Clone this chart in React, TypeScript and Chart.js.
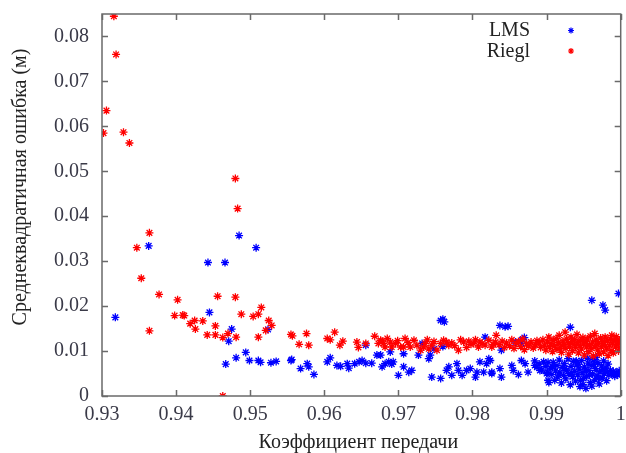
import React, { useEffect, useRef } from "react";
import { Chart, registerables } from "chart.js";

Chart.register(...registerables);

const xTickValues = [0.93, 0.94, 0.95, 0.96, 0.97, 0.98, 0.99, 1];
const yTickValues = [0, 0.01, 0.02, 0.03, 0.04, 0.05, 0.06, 0.07, 0.08];
const xTitle = "Коэффициент передачи";
const yTitle = "Среднеквадратичная ошибка (м)";
const seriesNames = ["LMS", "Riegl"];

const lmsPoints: [number, number][] = [
  [0.9318, 0.0175], [0.9363, 0.0334], [0.9443, 0.0297], [0.9466, 0.0297], [0.9485, 0.0357],
  [0.9508, 0.033], [0.9445, 0.0186], [0.9475, 0.0149], [0.9471, 0.0122], [0.9524, 0.0148],
  [0.9494, 0.0097], [0.9481, 0.0085], [0.9467, 0.0071], [0.9499, 0.0079], [0.9511, 0.0079],
  [0.9514, 0.0075], [0.9528, 0.0074], [0.9535, 0.0077], [0.9555, 0.0079], [0.9556, 0.0081],
  [0.9568, 0.0061], [0.9577, 0.0072], [0.9579, 0.0065], [0.9586, 0.0048],
  [0.9604, 0.0076], [0.9608, 0.0085], [0.9617, 0.0068], [0.9622, 0.0066], [0.9631, 0.0072],
  [0.9633, 0.0062], [0.9641, 0.0072], [0.9647, 0.0076], [0.9651, 0.0079], [0.9656, 0.0073],
  [0.9664, 0.0073], [0.9671, 0.0091], [0.9678, 0.0065], [0.9682, 0.0072], [0.9687, 0.0076],
  [0.9691, 0.0071], [0.9693, 0.0076], [0.9656, 0.0113], [0.9676, 0.0091], [0.9689, 0.0098],
  [0.9757, 0.0168], [0.9762, 0.0165], [0.976, 0.0171], [0.97, 0.0046], [0.9707, 0.0094],
  [0.9707, 0.0065], [0.9714, 0.0053], [0.9718, 0.0057], [0.9727, 0.0091], [0.9732, 0.0117],
  [0.9741, 0.0083], [0.9743, 0.0091], [0.9748, 0.0105], [0.9745, 0.0042], [0.9757, 0.0039],
  [0.976, 0.011], [0.9765, 0.0057], [0.9768, 0.0065], [0.9772, 0.0046], [0.9779, 0.0072],
  [0.9781, 0.0057], [0.9786, 0.0046], [0.9792, 0.0057], [0.9797, 0.0061], [0.9804, 0.0042],
  [0.9806, 0.0053], [0.981, 0.0076], [0.9815, 0.0053], [0.9819, 0.0072], [0.9822, 0.0083],
  [0.9826, 0.0053], [0.9817, 0.0131], [0.9837, 0.0157], [0.9844, 0.0154], [0.9848, 0.0155],
  [0.9932, 0.0153], [0.9961, 0.0213], [0.9976, 0.0202], [0.9979, 0.0191], [0.9997, 0.0228],
  [0.9839, 0.0102], [0.9824, 0.0079], [0.9826, 0.005], [0.9837, 0.0061], [0.9839, 0.0042],
  [0.9853, 0.0068], [0.9855, 0.0057], [0.9862, 0.0048], [0.9866, 0.0079], [0.9871, 0.0072],
  [0.9875, 0.0053], [0.9884, 0.0068], [0.9891, 0.0057], [0.9896, 0.0076], [0.99, 0.005],
  [0.9902, 0.0035], [0.9866, 0.0117], [0.9867, 0.0125], [0.9858, 0.012], [0.987, 0.013],
  [0.9884, 0.0078], [0.9887, 0.0064], [0.989, 0.0071], [0.9893, 0.0058], [0.9899, 0.0066],
  [0.9901, 0.0052], [0.9903, 0.003], [0.9902, 0.0075],
  [0.9905, 0.0062], [0.9907, 0.0048], [0.9909, 0.0075], [0.9911, 0.0035], [0.9912, 0.0056],
  [0.9914, 0.0068], [0.9915, 0.0042], [0.9917, 0.008], [0.9918, 0.0053], [0.992, 0.0029],
  [0.9921, 0.0064], [0.9923, 0.0046], [0.9924, 0.0072], [0.9926, 0.0038], [0.9927, 0.0058],
  [0.9929, 0.0083], [0.993, 0.005], [0.9932, 0.0025], [0.9933, 0.0066], [0.9935, 0.0043],
  [0.9936, 0.0077], [0.9938, 0.0055], [0.9939, 0.0033], [0.9941, 0.0069], [0.9942, 0.0047],
  [0.9944, 0.006], [0.9945, 0.0021], [0.9947, 0.0079], [0.9948, 0.0052], [0.995, 0.0039],
  [0.9951, 0.0065], [0.9953, 0.0017], [0.9954, 0.0044], [0.9956, 0.0073], [0.9957, 0.0057],
  [0.9959, 0.003], [0.996, 0.0068], [0.9962, 0.0049], [0.9963, 0.0081], [0.9965, 0.0036],
  [0.9966, 0.0061], [0.9968, 0.0045], [0.9969, 0.0074], [0.9971, 0.0027], [0.9972, 0.0054],
  [0.9974, 0.0067], [0.9975, 0.004], [0.9977, 0.0078], [0.9978, 0.005], [0.998, 0.0062],
  [0.9981, 0.0034], [0.9983, 0.0071], [0.9984, 0.0046], [0.9986, 0.0057], [0.9988, 0.0049],
  [0.999, 0.0055], [0.9992, 0.0044], [0.9994, 0.0052], [0.9996, 0.0047], [0.9998, 0.0056],
  [0.9999, 0.005],
  [0.9908, 0.0066], [0.9916, 0.0047], [0.9925, 0.0061], [0.9934, 0.0052], [0.994, 0.0078],
  [0.9946, 0.0035], [0.9952, 0.0058], [0.9958, 0.0047], [0.9964, 0.007], [0.997, 0.004],
  [0.9976, 0.0059], [0.9982, 0.0053], [0.9949, 0.0025], [0.9961, 0.0022], [0.9955, 0.0084],
  [0.9967, 0.0086], [0.9943, 0.0071],
];

const rieglPoints: [number, number][] = [
  [0.9316, 0.0845], [0.9319, 0.076], [0.9306, 0.0635], [0.9302, 0.0585], [0.9329, 0.0587],
  [0.9337, 0.0563], [0.948, 0.0484], [0.9483, 0.0417], [0.9364, 0.0363], [0.9347, 0.033],
  [0.9353, 0.0262], [0.9377, 0.0226], [0.9402, 0.0214], [0.9456, 0.0222], [0.948, 0.022],
  [0.9398, 0.0179], [0.9409, 0.018], [0.9411, 0.0179], [0.9419, 0.0161], [0.9425, 0.0168],
  [0.9436, 0.0167], [0.9426, 0.0149], [0.9364, 0.0145], [0.9442, 0.0136], [0.9453, 0.0136],
  [0.9453, 0.0156], [0.9463, 0.013], [0.947, 0.0139], [0.9481, 0.0131], [0.9488, 0.0182],
  [0.9504, 0.0177], [0.9511, 0.0182], [0.9515, 0.0197], [0.9525, 0.0168], [0.9529, 0.0157],
  [0.9521, 0.0146], [0.9511, 0.0131], [0.9463, 0.0],
  [0.9555, 0.0137], [0.9557, 0.0134], [0.9576, 0.0139], [0.9566, 0.0115], [0.9579, 0.0113],
  [0.9604, 0.0128], [0.9608, 0.0125], [0.9614, 0.0142], [0.9621, 0.0113], [0.9625, 0.0122],
  [0.9644, 0.012], [0.9646, 0.0108], [0.9656, 0.0117], [0.9668, 0.0133], [0.9673, 0.0117],
  [0.9678, 0.0122], [0.9682, 0.0109],
  [0.9676, 0.0124], [0.968, 0.0117], [0.9685, 0.0128], [0.9689, 0.012], [0.9691, 0.0109],
  [0.9696, 0.0117], [0.9703, 0.0109], [0.9707, 0.0109], [0.9709, 0.0128], [0.9716, 0.0109],
  [0.9721, 0.0124], [0.9725, 0.0113], [0.973, 0.0102], [0.9734, 0.0109], [0.9736, 0.0117],
  [0.9741, 0.0105], [0.9745, 0.0113], [0.9752, 0.0102], [0.9757, 0.0117], [0.9761, 0.0124],
  [0.9765, 0.012], [0.9768, 0.0113], [0.9772, 0.0118], [0.9781, 0.0102], [0.9788, 0.012],
  [0.9795, 0.0122], [0.9801, 0.0117], [0.9808, 0.0109], [0.981, 0.012], [0.9817, 0.0113],
  [0.9822, 0.0124], [0.9826, 0.0109], [0.9831, 0.012],
  [0.9699, 0.0123], [0.9713, 0.0119], [0.9739, 0.0125], [0.9748, 0.0121], [0.9776, 0.0112],
  [0.9784, 0.0125], [0.9792, 0.0108], [0.9798, 0.0115], [0.9804, 0.0125], [0.9813, 0.0117],
  [0.9828, 0.0115], [0.9832, 0.0135],
  [0.9836, 0.0114], [0.984, 0.0122], [0.9843, 0.0108], [0.9846, 0.0118], [0.985, 0.0112],
  [0.9853, 0.0125], [0.9856, 0.0106], [0.9859, 0.0117], [0.9862, 0.0121], [0.9865, 0.011],
  [0.9868, 0.0127], [0.987, 0.0103], [0.9873, 0.0116], [0.9876, 0.0111], [0.9879, 0.012],
  [0.9882, 0.0107], [0.9885, 0.0114], [0.9887, 0.0123],
  [0.989, 0.0118], [0.9892, 0.0108], [0.9895, 0.0125], [0.9897, 0.0113], [0.9899, 0.0102],
  [0.9901, 0.012], [0.9903, 0.0131], [0.9904, 0.011], [0.9906, 0.0117], [0.9908, 0.0099],
  [0.9909, 0.0124], [0.9911, 0.0112], [0.9913, 0.0128], [0.9914, 0.0104], [0.9916, 0.0119],
  [0.9917, 0.0135], [0.9919, 0.0109], [0.992, 0.0097], [0.9922, 0.0122], [0.9923, 0.0114],
  [0.9925, 0.0142], [0.9926, 0.0106], [0.9927, 0.0127], [0.9929, 0.0118], [0.993, 0.0093],
  [0.9931, 0.0111], [0.9933, 0.0131], [0.9934, 0.0121], [0.9935, 0.0101], [0.9937, 0.0115],
  [0.9938, 0.0126], [0.9939, 0.0108], [0.9941, 0.0137], [0.9942, 0.0119], [0.9943, 0.0096],
  [0.9945, 0.0112], [0.9946, 0.0124], [0.9947, 0.0105], [0.9949, 0.013], [0.995, 0.0116],
  [0.9951, 0.0091], [0.9953, 0.0121], [0.9954, 0.0109], [0.9955, 0.0127], [0.9957, 0.0099],
  [0.9958, 0.0114], [0.9959, 0.0133], [0.9961, 0.0106], [0.9962, 0.012], [0.9963, 0.0089],
  [0.9965, 0.0139], [0.9966, 0.0112], [0.9967, 0.0125], [0.9969, 0.0102], [0.997, 0.0117],
  [0.9971, 0.0094], [0.9973, 0.0129], [0.9974, 0.011], [0.9975, 0.0121], [0.9977, 0.0098],
  [0.9978, 0.0115], [0.9979, 0.0131], [0.9981, 0.0107], [0.9982, 0.0123], [0.9983, 0.009],
  [0.9985, 0.0113], [0.9986, 0.0127], [0.9987, 0.0101], [0.9989, 0.0118], [0.999, 0.0096],
  [0.9991, 0.0124], [0.9993, 0.0109], [0.9994, 0.0132], [0.9995, 0.0115], [0.9997, 0.01],
  [0.9998, 0.0121], [0.9999, 0.0108], [1.0, 0.0117], [0.9996, 0.0126], [0.9988, 0.0135],
];

const FONT = "'Liberation Serif', 'DejaVu Serif', serif";
const LMS_COLOR = "#0000ff";
const RIEGL_COLOR = "#ff0000";

function drawStar(ctx: CanvasRenderingContext2D, x: number, y: number, r: number, color: string) {
  ctx.save();
  ctx.strokeStyle = color;
  ctx.lineWidth = 1.2;
  ctx.beginPath();
  ctx.moveTo(x - r, y); ctx.lineTo(x + r, y);
  ctx.moveTo(x, y - r); ctx.lineTo(x, y + r);
  const d = r * Math.SQRT1_2;
  ctx.moveTo(x - d, y - d); ctx.lineTo(x + d, y + d);
  ctx.moveTo(x - d, y + d); ctx.lineTo(x + d, y - d);
  ctx.stroke();
  ctx.restore();
}

const decorPlugin = {
  id: "decor",
  afterDraw(chart: any) {
    const { ctx, chartArea } = chart;
    const { left, right, top, bottom } = chartArea;
    const xs = chart.scales.x;
    const ys = chart.scales.y;
    ctx.save();
    ctx.strokeStyle = "#6a6a6a";
    ctx.lineWidth = 1.5;
    ctx.strokeRect(left, top, right - left, bottom - top);
    const tl = 6;
    ctx.beginPath();
    xTickValues.forEach((v) => {
      const px = Math.round(xs.getPixelForValue(v)) + 0.5;
      ctx.moveTo(px, bottom); ctx.lineTo(px, bottom - tl);
      ctx.moveTo(px, top); ctx.lineTo(px, top + tl);
    });
    yTickValues.forEach((v) => {
      const py = Math.round(ys.getPixelForValue(v)) + 0.5;
      ctx.moveTo(left, py); ctx.lineTo(left + tl, py);
      ctx.moveTo(right, py); ctx.lineTo(right - tl, py);
    });
    ctx.stroke();

    // legend
    ctx.fillStyle = "#222";
    ctx.font = `20px ${FONT}`;
    ctx.textAlign = "right";
    ctx.textBaseline = "alphabetic";
    ctx.fillText(seriesNames[0], 530, 36);
    ctx.fillText(seriesNames[1], 530, 56.5);
    drawStar(ctx, 571, 30.5, 3, LMS_COLOR);
    drawStar(ctx, 571, 51, 3, RIEGL_COLOR);

    // axis titles
    ctx.fillStyle = "#222";
    ctx.textAlign = "center";
    ctx.textBaseline = "alphabetic";
    ctx.fillText(xTitle, (left + right) / 2 - 3, 448);
    ctx.translate(26, 187);
    ctx.rotate(-Math.PI / 2);
    ctx.fillText(yTitle, 0, 0);
    ctx.restore();
  },
};

export default function App() {
  const ref = useRef<HTMLCanvasElement | null>(null);
  useEffect(() => {
    if (!ref.current) return;
    const chart = new Chart(ref.current, {
      type: "scatter",
      data: {
        datasets: [
          {
            label: seriesNames[0],
            data: lmsPoints.map(([x, y]) => ({ x, y })),
            pointStyle: "star",
            radius: 4,
            borderColor: LMS_COLOR,
            backgroundColor: LMS_COLOR,
            borderWidth: 1.3,
            order: 1,
            clip: 0,
          },
          {
            label: seriesNames[1],
            data: rieglPoints.map(([x, y]) => ({ x, y })),
            pointStyle: "star",
            radius: 4,
            borderColor: RIEGL_COLOR,
            backgroundColor: RIEGL_COLOR,
            borderWidth: 1.3,
            order: 0,
            clip: 0,
          },
        ],
      },
      options: {
        responsive: false,
        animation: false,
        layout: { padding: { left: 0, right: 4, top: 14, bottom: 0 } },
        plugins: { legend: { display: false }, tooltip: { enabled: false } },
        scales: {
          x: {
            type: "linear",
            min: 0.93,
            max: 1,
            grid: { display: false, drawTicks: false },
            border: { display: false },
            afterBuildTicks: (s: any) => {
              s.ticks = xTickValues.map((v) => ({ value: v }));
            },
            afterFit: (s: any) => {
              s.height = 57;
              s.paddingLeft = 0;
              s.paddingRight = 0;
            },
            ticks: {
              autoSkip: false,
              maxRotation: 0,
              padding: 7,
              color: "#3a3a48",
              font: { family: FONT, size: 20 },
              callback: (v: any) => String(v),
            },
          },
          y: {
            type: "linear",
            min: 0,
            max: 0.085,
            grid: { display: false, drawTicks: false },
            border: { display: false },
            afterBuildTicks: (s: any) => {
              s.ticks = yTickValues.map((v) => ({ value: v }));
            },
            afterFit: (s: any) => {
              s.width = 102;
              s.paddingTop = 0;
              s.paddingBottom = 0;
            },
            ticks: {
              autoSkip: false,
              padding: 13,
              color: "#3a3a48",
              font: { family: FONT, size: 20 },
              callback: (v: any) => String(v),
            },
          },
        },
      },
      plugins: [decorPlugin],
    });
    return () => chart.destroy();
  }, []);
  return (
    <div style={{ position: "fixed", left: 0, top: 0, width: 626, height: 453, background: "#fff" }}>
      <canvas ref={ref} width={626} height={453} />
    </div>
  );
}
